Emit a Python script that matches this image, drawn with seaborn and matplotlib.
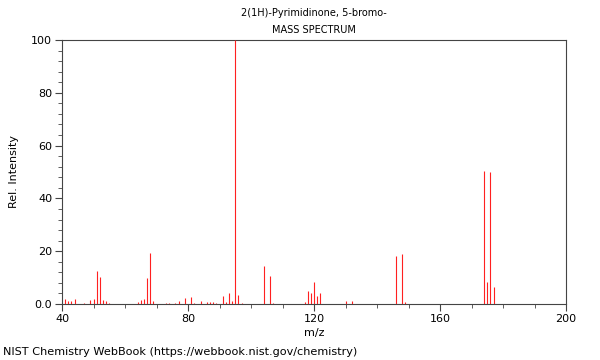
import matplotlib
matplotlib.use("Agg")
import matplotlib.pyplot as plt
from matplotlib.ticker import MultipleLocator, FixedLocator, FixedFormatter
import seaborn as sns
import pandas as pd

title_line1 = "2(1H)-Pyrimidinone, 5-bromo-"
title_line2 = "MASS SPECTRUM"
x_label = "m/z"
y_label = "Rel. Intensity"
footer = "NIST Chemistry WebBook (https://webbook.nist.gov/chemistry)"

mz = [41, 42, 43, 44, 47, 49, 50, 51, 52, 53, 54, 55,
      64, 65, 66, 67, 68, 69, 73, 74, 76, 77, 79, 81, 82, 84, 86, 87, 88, 89,
      91, 92, 93, 94, 95, 96, 97, 104, 106, 107,
      117, 118, 119, 120, 121, 122, 130, 132,
      146, 148, 149, 174, 175, 176, 177]
intensity = [1.8, 1.0, 1.2, 2.0, 0.3, 1.6, 1.8, 12.5, 10.4, 1.5, 1.0, 0.5,
             0.8, 1.5, 1.8, 10.0, 19.2, 1.0, 0.3, 0.3, 0.5, 1.3, 2.4, 2.6, 0.3, 1.2, 0.8, 0.8, 0.8, 0.3,
             3.2, 0.8, 4.1, 1.0, 100.0, 3.4, 0.3, 14.5, 10.6, 0.5,
             0.8, 4.9, 4.3, 8.5, 2.9, 4.2, 1.1, 1.0,
             18.3, 19.0, 0.8, 50.3, 8.2, 50.0, 6.4]

x_ticks = [40, 80, 120, 160, 200]
y_ticks = [0, 20, 40, 60, 80, 100]
y_tick_labels = ["0.0", "20", "40", "60", "80", "100"]

df = pd.DataFrame({"mz": mz, "intensity": intensity})

sns.set_theme(style="ticks")
plt.rcParams["font.family"] = ["DejaVu Sans"]
plt.rcParams["text.color"] = "black"
plt.rcParams["axes.labelcolor"] = "black"
plt.rcParams["xtick.color"] = "black"
plt.rcParams["ytick.color"] = "black"

fig = plt.figure(figsize=(6, 3.6), dpi=100)
ax = fig.add_axes([62/600, 1 - 304/360, 504/600, 264/360])

ax.vlines(df["mz"], 0, df["intensity"], colors="#ff2020", linewidth=0.8,
          zorder=3, antialiased=True)

ax.set_xlim(40, 200)
ax.set_ylim(0, 100)
ax.xaxis.set_major_locator(FixedLocator(x_ticks))
ax.xaxis.set_minor_locator(MultipleLocator(10))
ax.yaxis.set_major_locator(FixedLocator(y_ticks))
ax.yaxis.set_major_formatter(FixedFormatter(y_tick_labels))
ax.yaxis.set_minor_locator(MultipleLocator(4))

for s in ax.spines.values():
    s.set_visible(True)
    s.set_color("#444444")
    s.set_linewidth(0.8)
    s.set_zorder(2.5)

ax.tick_params(axis="both", which="major", direction="out", length=5, width=0.8,
               color="#444444", labelcolor="black", labelsize=8, pad=2)
ax.tick_params(axis="both", which="minor", direction="out", length=3, width=0.6,
               color="#444444")

ax.set_xlabel(x_label, fontsize=8, labelpad=3)
ax.set_ylabel(y_label, fontsize=8, labelpad=9)

fig.text(314/600, 1 - 13/360, title_line1, ha="center", va="center", fontsize=7)
fig.text(314/600, 1 - 30/360, title_line2, ha="center", va="center", fontsize=7)
fig.text(3/600, 1 - 352/360, footer, ha="left", va="center", fontsize=8.1)

fig.savefig("out.png", dpi=100)
